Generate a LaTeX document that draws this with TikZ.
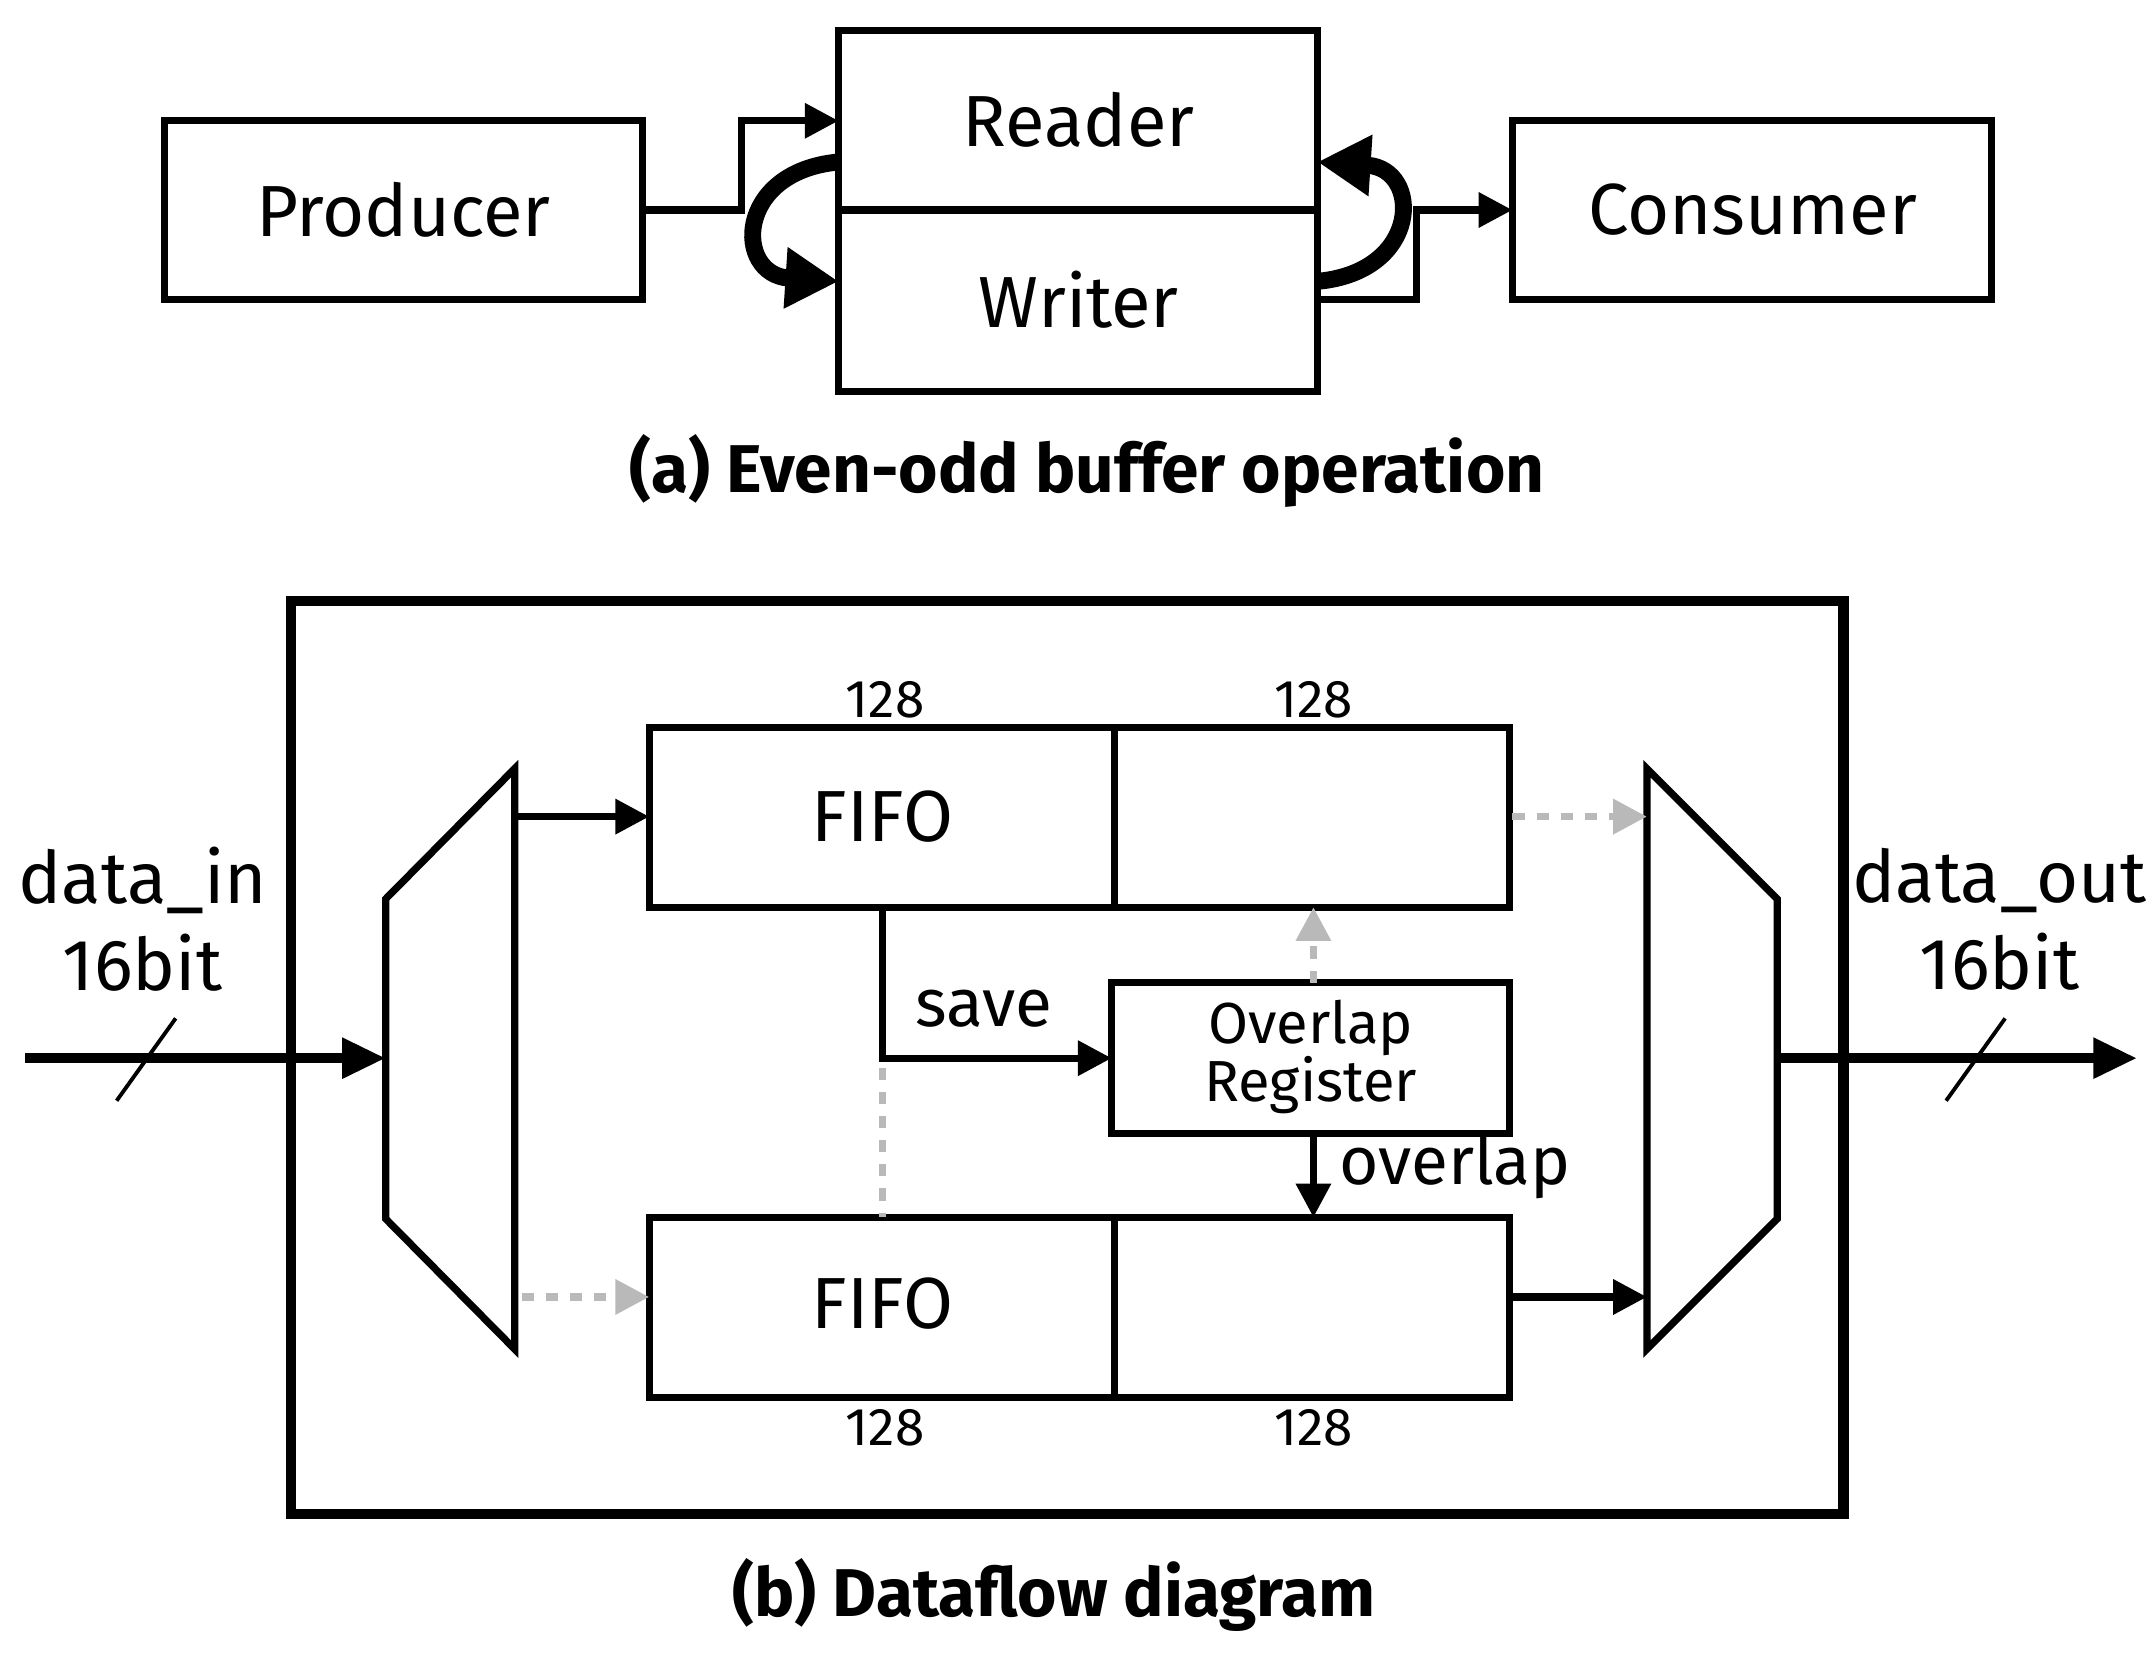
\documentclass[tikz,border=0pt]{standalone}
\usepackage{fontspec}
\setmainfont{Fira Sans}
\usetikzlibrary{arrows.meta}
\begin{document}
\begin{tikzpicture}[x=0.01cm,y=-0.01cm,
 ar/.style={line width=1.5pt,-{Triangle[length=7pt,width=7pt]}},
 gr/.style={line width=1.5pt,gray!55,dash pattern=on 2.5pt off 2.5pt,-{Triangle[length=7pt,width=7pt]}},
 big/.style={font=\fontsize{15}{18}\selectfont},
 captxt/.style={font=\bfseries\fontsize{14}{16}\selectfont}]
\useasboundingbox (0,0) rectangle (1568,1205);
% (a)
\draw[line width=1.5pt] (120,88) rectangle (468,218);
\node[big] (prodt) at (294,153) {Producer};
\draw[line width=1.5pt] (611,22) rectangle (960,153);
\draw[line width=1.5pt] (611,153) rectangle (960,285);
\draw[line width=1.5pt] (1102,88) rectangle (1451,218);
\node[big] (rd) at (786,87) {Reader};
\node[big] (wr) at (786,218) {Writer};
\node[big] (cons) at (1277,153) {Consumer};
\coordinate (pr) at (468,153); \coordinate (ri) at (611,88);
\coordinate (wo) at (960,218); \coordinate (ci) at (1102,153);
\draw[ar] (pr) -- (540,153) -- (540,88) -- (ri);
\draw[ar] (wo) -- (1032,218) -- (1032,153) -- (ci);
\coordinate (l1) at (611,118); \coordinate (l2) at (611,205);
\coordinate (r1) at (960,205); \coordinate (r2) at (960,118);
\draw[line width=3.5pt,-{Triangle[length=11pt,width=12pt]}] (l1) .. controls (535,125) and (535,200) .. (l2);
\draw[line width=3.5pt,-{Triangle[length=11pt,width=12pt]}] (r1) .. controls (1036,198) and (1036,123) .. (r2);
\node[captxt] (capa) at (792,343) {(a) Even-odd buffer operation};
% (b)
\draw[line width=2.2pt] (212,438) rectangle (1343,1103);
\node[captxt] (capb) at (768,1162) {(b) Dataflow diagram};
\draw[line width=1.5pt] (375,560) -- (375,983) -- (281,888) -- (281,655) -- cycle;
\draw[line width=1.5pt] (1200,560) -- (1295,655) -- (1295,888) -- (1200,983) -- cycle;
\draw[line width=1.5pt] (473,530) rectangle (1100,661); \draw[line width=1.5pt] (812,530) -- (812,661);
\draw[line width=1.5pt] (473,887) rectangle (1100,1018); \draw[line width=1.5pt] (812,887) -- (812,1018);
\draw[line width=1.5pt] (810,716) rectangle (1100,826);
\node[big] (f1) at (643,595) {FIFO};
\node[big] (f2) at (643,950) {FIFO};
\node[font=\fontsize{11}{12}\selectfont] (n1) at (645,510) {128};
\node[font=\fontsize{11}{12}\selectfont] (n2) at (957,510) {128};
\node[font=\fontsize{11}{12}\selectfont] (n3) at (645,1040) {128};
\node[font=\fontsize{11}{12}\selectfont] (n4) at (957,1040) {128};
\node[font=\fontsize{12}{15}\selectfont,align=center] (ov) at (955,770) {Overlap\\[-3pt]Register};
\draw[ar] (375,595) -- (473,595);
\draw[gr] (380,945) -- (473,945);
\draw[gr] (1102,595) -- (1200,595);
\draw[ar] (1100,945) -- (1200,945);
\draw[ar] (643,661) -- (643,771) -- (810,771);
\node[font=\fontsize{14}{16}\selectfont] (sv) at (717,735) {save};
\draw[line width=1.5pt,gray!55,dash pattern=on 2.5pt off 2.5pt] (643,778) -- (643,887);
\draw[gr] (957,716) -- (957,661);
\draw[ar] (957,826) -- (957,887);
\node[font=\fontsize{14}{16}\selectfont] (ovl) at (1060,850) {overlap};
\draw[line width=2pt,-{Triangle[length=9pt,width=8pt]}] (18,771) -- (281,771);
\draw[line width=0.8pt] (85,802) -- (128,742);
\node[big,align=center] (din) at (104,670) {data\_in\\16bit};
\draw[line width=2pt,-{Triangle[length=9pt,width=8pt]}] (1295,771) -- (1557,771);
\draw[line width=0.8pt] (1418,802) -- (1461,742);
\node[big,align=center] (dout) at (1457,670) {data\_out\\16bit};
\end{tikzpicture}
\end{document}
